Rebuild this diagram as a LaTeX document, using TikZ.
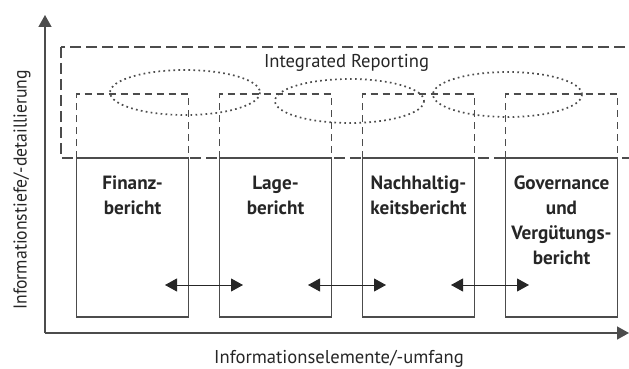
\documentclass[tikz,border=0pt]{standalone}
\usepackage{fontspec}
\setmainfont{PT Sans}
\usetikzlibrary{arrows.meta}

\definecolor{linegray}{HTML}{4C4C4C}
\definecolor{textgray}{HTML}{262626}

\tikzset{
  axis/.style={draw=linegray, line width=1.5pt, -{Triangle[length=12pt,width=13pt]}},
  report/.style={draw=linegray, line width=1.5pt, rectangle, minimum width=112pt,
    minimum height=159pt, inner sep=0pt, outer sep=0pt},
  reportext/.style={draw=linegray, line width=1.3pt, dash pattern=on 7pt off 5pt},
  frame/.style={draw=linegray, line width=1.5pt, dash pattern=on 11pt off 5pt},
  overlap/.style={draw=linegray, line width=1.7pt, dash pattern=on 1.7pt off 3.3pt},
  exchange/.style={draw=textgray, line width=0.9pt, {Triangle[length=12pt,width=13pt]}-{Triangle[length=12pt,width=13pt]}},
  boxlabel/.style={text=textgray, font=\bfseries\fontsize{19.2}{25}\selectfont, align=center, anchor=north, inner sep=0pt},
  axislabel/.style={text=textgray, font=\fontsize{18.6}{21}\selectfont, inner sep=0pt}
}

\begin{document}
\begin{tikzpicture}[x=1pt,y=-1pt]
\useasboundingbox (0,0) rectangle (629,369);
\clip (0,0) rectangle (629,369);

% axes
\coordinate (origin) at (45,333);
\coordinate (ytip) at (45,15);
\coordinate (xtip) at (629,333);
\draw[axis] (origin) -- (ytip);
\draw[axis] (origin) -- (xtip);
\node[axislabel, rotate=90] (ylab) at (22,190) {\scalebox{0.95}[1]{Informationstiefe/-detaillierung}};
\node[axislabel] (xlab) at (339,359) {Informationselemente/-umfang};

% Integrated Reporting frame
\draw[frame] (61,47) rectangle (640,158);
\node[axislabel] (ir) at (346.5,63) {Integrated Reporting};

% the four reports
\node[report] (fin) at (132.5,237.5) {};
\node[report] (lage) at (275.5,237.5) {};
\node[report] (nach) at (418.5,237.5) {};
\node[report] (gov) at (561.5,237.5) {};

\foreach \b in {fin,lage,nach,gov}{
  \draw[reportext] (\b.north west) -- ++(0,-64) -| (\b.north east);
}

\node[boxlabel] (finlab) at ([yshift=-176pt]fin.north |- 0,0) {Finanz-\\bericht};
\node[boxlabel] (lagelab) at ([yshift=-176pt]lage.north |- 0,0) {Lage-\\bericht};
\node[boxlabel] (nachlab) at ([yshift=-176pt]nach.north |- 0,0) {Nachhaltig-\\keitsbericht};
\node[boxlabel] (govlab) at ([yshift=-176pt]gov.north |- 0,0) {Governance\\und\\Vergütungs-\\bericht};

% overlapping content between neighbouring reports
\draw[overlap] (185,92.5) ellipse [x radius=75, y radius=22.5];
\draw[overlap] (349.5,101) ellipse [x radius=74.5, y radius=22];
\draw[overlap] (507.5,94.5) ellipse [x radius=74.5, y radius=22.5];

% exchange arrows
\coordinate (a1) at (165,285); \coordinate (b1) at (243,285);
\coordinate (a2) at (308,285); \coordinate (b2) at (386,285);
\coordinate (a3) at (451,285); \coordinate (b3) at (529,285);
\draw[exchange] (a1) -- (b1);
\draw[exchange] (a2) -- (b2);
\draw[exchange] (a3) -- (b3);
\end{tikzpicture}
\end{document}
